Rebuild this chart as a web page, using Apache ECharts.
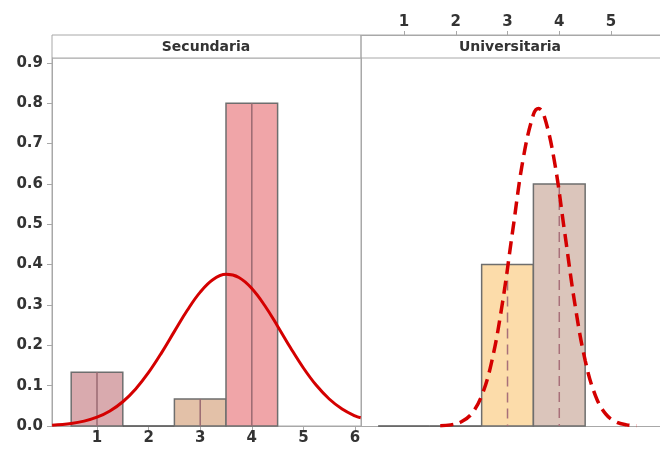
<!DOCTYPE html>
<html>
<head>
<meta charset="utf-8">
<script src="https://cdn.jsdelivr.net/npm/echarts@6/dist/echarts.min.js"></script>
<style>html,body{margin:0;padding:0;background:#fff}#c{width:660px;height:450px}</style>
</head>
<body>
<div id="c"></div>
<script>
// ---- data ----
const panels = ['Secundaria', 'Universitaria'];
const xTicks = [1, 2, 3, 4, 5, 6];
const yTicks = [0, 0.1, 0.2, 0.3, 0.4, 0.5, 0.6, 0.7, 0.8, 0.9];
const secCategories = [1, 2, 3, 4];
const secValues = [0.133, 0, 0.067, 0.8];
const uniCategories = [1, 2, 3, 4];
const uniValues = [0, 0, 0.4, 0.6];
const secCurveX = [0.13, 0.5, 0.75, 1, 1.25, 1.5, 1.75, 2, 2.25, 2.5, 2.75, 3, 3.25, 3.5, 3.75, 4, 4.25, 4.5, 4.75, 5, 5.25, 5.5, 5.75, 6, 6.11];
const secCurveY = [0.002, 0.0063, 0.0121, 0.0218, 0.0372, 0.0601, 0.0918, 0.1327, 0.1813, 0.2345, 0.2868, 0.3318, 0.3631, 0.3758, 0.368, 0.3408, 0.2986, 0.2474, 0.1939, 0.1438, 0.1008, 0.0669, 0.042, 0.0249, 0.0205];
const uniCurveX = [1.7, 1.9, 2.1, 2.3, 2.5, 2.7, 2.9, 3.1, 3.3, 3.5, 3.6, 3.7, 3.9, 4.1, 4.3, 4.5, 4.7, 4.9, 5.1, 5.3, 5.5];
const uniCurveY = [0.0007, 0.0028, 0.0099, 0.0294, 0.0748, 0.1629, 0.3035, 0.4839, 0.6606, 0.7718, 0.787, 0.7718, 0.6606, 0.4839, 0.3035, 0.1629, 0.0748, 0.0294, 0.0099, 0.0028, 0.0007];

// ---- style ----
const secColors = ['#d9aaae', '#d9aaae', '#e3c1a8', '#f0a5a8'];
const uniColors = ['#dbc5bb', '#dbc5bb', '#fcdcaa', '#dbc5bb'];
const font = 'DejaVu Sans, sans-serif';
const gray = '#a8a8a8';
const labelStyle = { color: '#333', fontSize: 15, fontWeight: 'bold', fontFamily: font };

function barSeries(cats, vals, colors, gi, dashed) {
  return {
    type: 'custom',
    xAxisIndex: gi, yAxisIndex: gi,
    data: cats.map((c, i) => [c, vals[i], i]),
    renderItem: function (params, api) {
      const x = api.value(0), h = api.value(1), idx = api.value(2);
      const p0 = api.coord([x - 0.5, h]);
      const p1 = api.coord([x + 0.5, 0]);
      const pc = api.coord([x, 0]);
      const children = [];
      if (h > 0) {
        children.push({
          type: 'rect',
          shape: { x: p0[0], y: p0[1], width: p1[0] - p0[0], height: p1[1] - p0[1] },
          style: { fill: colors[idx], stroke: '#6e6e6e', lineWidth: 1.5 }
        });
        children.push({
          type: 'line',
          shape: { x1: pc[0], y1: p0[1], x2: pc[0], y2: p1[1] },
          style: { stroke: dashed ? '#a8707a' : '#9a6a72', lineWidth: 1.5, lineDash: dashed ? [10, 6] : null }
        });
      } else {
        children.push({
          type: 'line',
          shape: { x1: p0[0], y1: p1[1], x2: p1[0], y2: p1[1] },
          style: { stroke: '#555', lineWidth: 1.5 }
        });
      }
      return { type: 'group', children: children };
    }
  };
}

const chart = echarts.init(document.getElementById('c'), null, { renderer: 'canvas' });
const yCommon = { type: 'value', min: 0, max: 0.912, splitLine: { show: false } };
chart.setOption({
  animation: false,
  backgroundColor: '#fff',
  grid: [
    { left: 52, width: 309, top: 58, bottom: 24, show: true, borderColor: gray, borderWidth: 1 },
    { left: 361, right: 0, top: 58, bottom: 24, show: false }
  ],
  xAxis: [
    {
      gridIndex: 0, type: 'value', min: 0.128, max: 6.116, position: 'bottom',
      splitLine: { show: false },
      axisLine: { show: true, onZero: false, lineStyle: { color: gray } },
      axisTick: { show: true, length: 5, customValues: xTicks, lineStyle: { color: gray } },
      axisLabel: Object.assign({ customValues: xTicks, margin: 5 }, labelStyle)
    },
    {
      gridIndex: 1, type: 'value', min: 0.169, max: 5.946, position: 'top', offset: 23,
      splitLine: { show: false },
      axisLine: { show: true, onZero: false, lineStyle: { color: gray } },
      axisTick: { show: true, length: 4, customValues: xTicks, lineStyle: { color: gray } },
      axisLabel: Object.assign({ customValues: xTicks, margin: 5 }, labelStyle)
    }
  ],
  yAxis: [
    Object.assign({}, yCommon, {
      gridIndex: 0,
      axisLine: { show: true, onZero: false, lineStyle: { color: gray } },
      axisTick: { show: true, length: 5, customValues: yTicks, lineStyle: { color: gray } },
      axisLabel: Object.assign({ customValues: yTicks, margin: 9, formatter: v => v.toFixed(1) }, labelStyle)
    }),
    Object.assign({}, yCommon, {
      gridIndex: 1,
      axisLine: { show: true, onZero: false, lineStyle: { color: gray } },
      axisTick: { show: false }, axisLabel: { show: false }
    })
  ],
  graphic: [
    { type: 'line', shape: { x1: 361, y1: 426.5, x2: 660, y2: 426.5 }, style: { stroke: gray, lineWidth: 1 } },
    { type: 'rect', shape: { x: 52, y: 35, width: 309, height: 23 }, style: { fill: '#fff', stroke: gray, lineWidth: 1 } },
    { type: 'rect', shape: { x: 361, y: 35, width: 309, height: 23 }, style: { fill: 'rgba(0,0,0,0)', stroke: gray, lineWidth: 1 } },
    { type: 'text', x: 206, y: 47, style: { text: panels[0], font: 'bold 14px ' + font, fill: '#333', align: 'center', verticalAlign: 'middle' } },
    { type: 'text', x: 510, y: 47, style: { text: panels[1], font: 'bold 14px ' + font, fill: '#333', align: 'center', verticalAlign: 'middle' } }
  ],
  series: [
    barSeries(secCategories, secValues, secColors, 0, false),
    barSeries(uniCategories, uniValues, uniColors, 1, true),
    {
      type: 'line', xAxisIndex: 0, yAxisIndex: 0, smooth: 0.4, showSymbol: false, z: 5,
      data: secCurveX.map((x, i) => [x, secCurveY[i]]),
      lineStyle: { color: '#d40000', width: 3 }
    },
    {
      type: 'line', xAxisIndex: 1, yAxisIndex: 1, smooth: 0.4, showSymbol: false, z: 5,
      data: uniCurveX.map((x, i) => [x, uniCurveY[i]]),
      lineStyle: { color: '#d40000', width: 3.5, type: [13, 7] }
    }
  ]
});
</script>
</body>
</html>
